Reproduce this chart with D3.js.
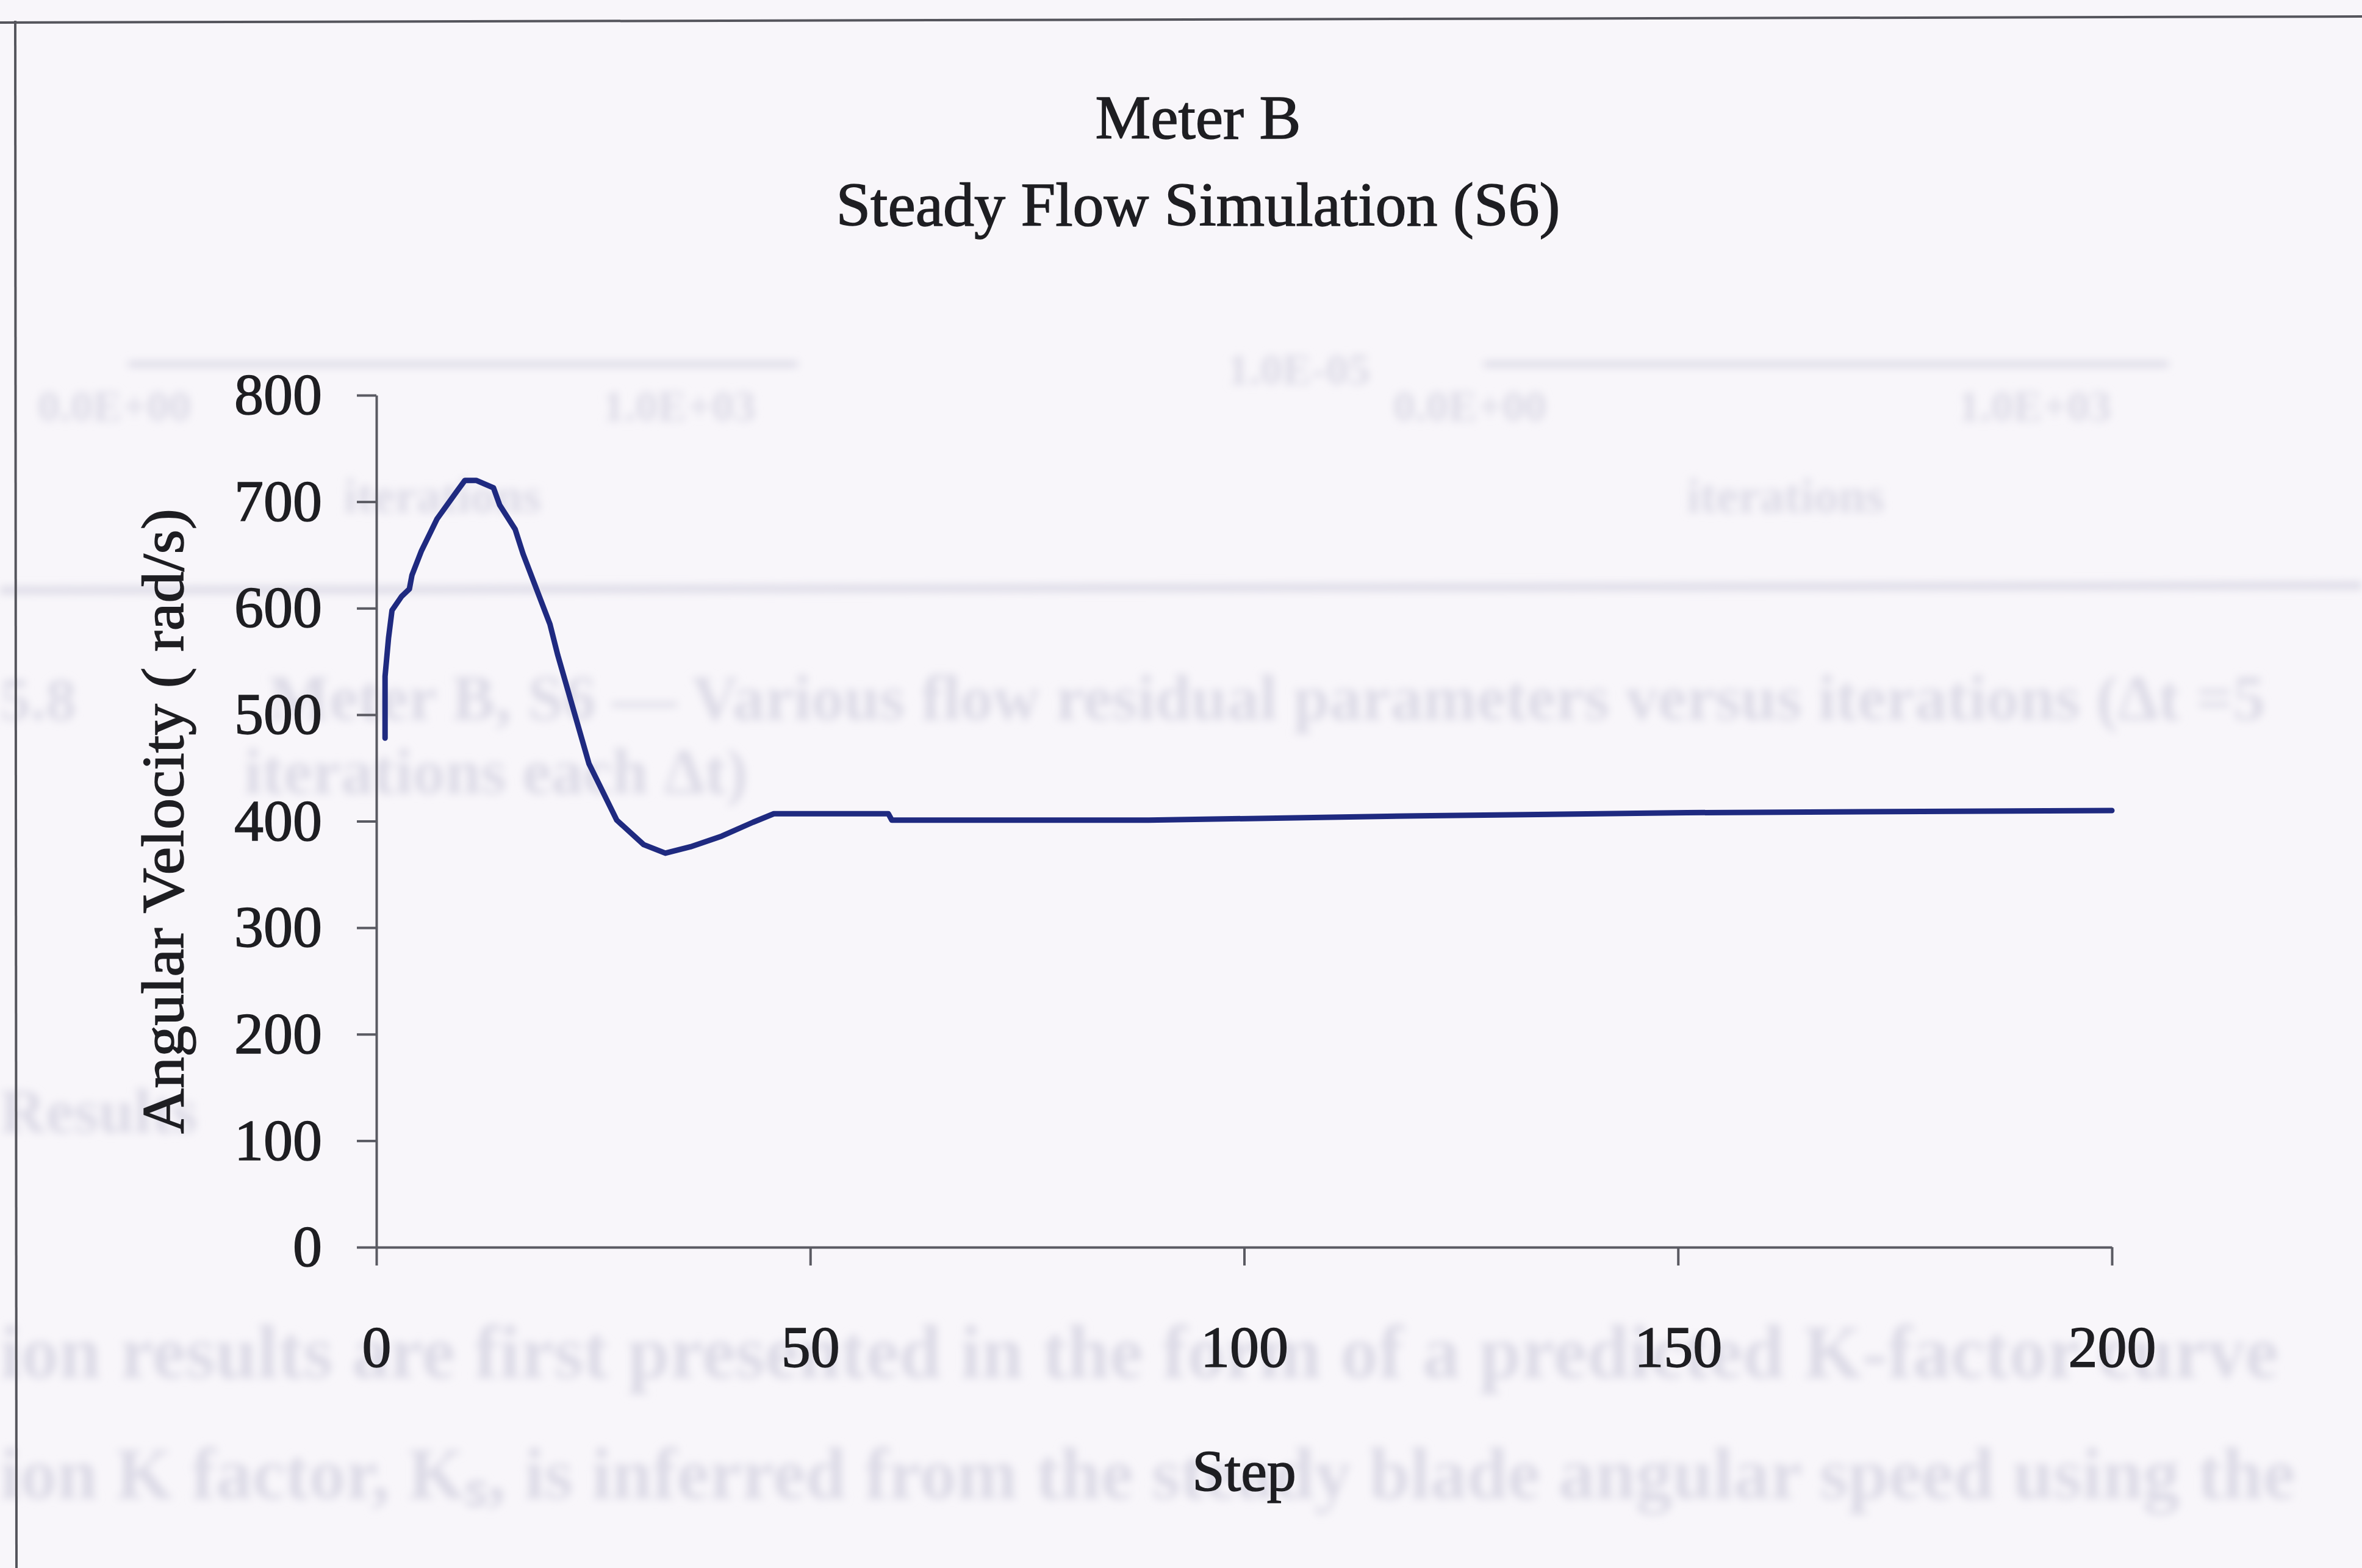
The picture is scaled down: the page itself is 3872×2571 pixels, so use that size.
<!DOCTYPE html>
<html>
<head>
<meta charset="utf-8">
<script src="https://cdn.jsdelivr.net/npm/d3@7/dist/d3.min.js"></script>
<style>
	html, body { margin: 0; padding: 0; background: #f8f6fa; }
	svg { display: block; }
</style>
</head>
<body>
<div id="chart"></div>
<script>
// Chart text
const titleLines = ['Meter B', 'Steady Flow Simulation (S6)'];
const xLabel = 'Step';
const yLabel = 'Angular Velocity ( rad/s)';

// Tick values
const xTicks = [0, 50, 100, 150, 200];
const yTicks = [0, 100, 200, 300, 400, 500, 600, 700, 800];

// Angular velocity (step, rad/s)
const steps = [1, 1, 1.4, 1.8, 2.9, 3.8, 4.1, 5.2, 7, 9.3, 10.2, 11.5, 13.5, 14.2, 16, 16.9,
	20, 20.9, 24.5, 27.7, 30.8, 33.3, 36.2, 39.8, 43.4, 45.8, 59, 59.4, 66, 89, 120, 151, 200];
const omega = [478, 536, 572, 598, 611, 618, 631, 654, 684, 710, 720, 720, 713, 697, 674, 651,
	585, 556, 454, 401, 378, 370, 376, 386, 399, 407, 407, 401, 401, 401, 405, 408, 410];

const	width = 3872,
		height = 2571,
		lineColor = '#1f2a80',
		axisColor = '#5a5a62',
		textColor = '#1e1e22',
		ghostColor = '#dcdae6';

const svg = d3.select('#chart').append('svg')
	.attr('width', width)
	.attr('height', height)
	.style('font-family', '"Liberation Serif", "DejaVu Serif", serif');

// Soft blur for the show-through of the reverse page
svg.append('defs').append('filter')
	.attr('id', 'ghostBlur')
	.attr('x', '-5%').attr('y', '-50%').attr('width', '110%').attr('height', '200%')
	.append('feGaussianBlur')
	.attr('stdDeviation', 7);

svg.append('rect')
	.attr('width', width)
	.attr('height', height)
	.attr('fill', '#f8f6fa');

// Faint show-through from the scanned page behind the chart
const ghost = svg.append('g')
	.attr('fill', ghostColor)
	.attr('filter', 'url(#ghostBlur)')
	.style('font-family', '"Liberation Serif", serif');

ghost.append('line').attr('x1', 210).attr('x2', 1308).attr('y1', 597).attr('y2', 597)
	.attr('stroke', ghostColor).attr('stroke-width', 10);
ghost.append('line').attr('x1', 2432).attr('x2', 3555).attr('y1', 597).attr('y2', 597)
	.attr('stroke', ghostColor).attr('stroke-width', 10);
ghost.append('line').attr('x1', 0).attr('x2', width).attr('y1', 968).attr('y2', 960)
	.attr('stroke', ghostColor).attr('stroke-width', 12);

[
	['0.0E+00', 62, 690, 72], ['1.0E+03', 988, 690, 72], ['1.0E-05', 2012, 630, 72],
	['0.0E+00', 2284, 690, 72], ['1.0E+03', 3210, 690, 72],
	['iterations', 563, 840, 80], ['iterations', 2765, 840, 80],
	['5.8', 0, 1180, 100],
	['Meter B, S6 \u2014 Various flow residual parameters versus iterations (\u0394t =5', 440, 1180, 106],
	['iterations each \u0394t)', 400, 1301, 106],
	['Results', 0, 1857, 104],
	['ion results are first presented in the form of a predicted K-factor curve', 0, 2259, 124],
	['ion K factor, K\u209b, is inferred from the steady blade angular speed using the', 0, 2457, 120]
].forEach(g => {
	ghost.append('text')
		.attr('x', g[1])
		.attr('y', g[2])
		.style('font-size', g[3] + 'px')
		.style('font-weight', 'bold')
		.text(g[0]);
});

// Page frame lines from the scan
svg.append('line')
	.attr('x1', 0).attr('y1', 37).attr('x2', width).attr('y2', 27)
	.attr('stroke', '#55555c').attr('stroke-width', 4);
svg.append('line')
	.attr('x1', 25).attr('y1', 34).attr('x2', 27).attr('y2', height)
	.attr('stroke', '#55555c').attr('stroke-width', 4);

// Scales
const x = d3.scaleLinear()
	.domain([0, 200])
	.range([617, 3462]);

const y = d3.scaleLinear()
	.domain([0, 800])
	.range([2045, 648]);

// Axes
const yAxis = svg.append('g')
	.attr('transform', `translate(${x(0)},0)`)
	.call(d3.axisLeft(y).tickValues(yTicks).tickSize(32).tickSizeOuter(0).tickPadding(57));

const xAxis = svg.append('g')
	.attr('transform', `translate(0,${y(0)})`)
	.call(d3.axisBottom(x).tickValues(xTicks).tickSize(30).tickSizeOuter(0).tickPadding(98));

[xAxis, yAxis].forEach(ax => {
	ax.select('.domain').attr('stroke', axisColor).attr('stroke-width', 4);
	ax.selectAll('.tick line').attr('stroke', axisColor).attr('stroke-width', 4);
	ax.selectAll('.tick text')
		.attr('fill', textColor)
		.attr('stroke', textColor)
		.attr('stroke-width', 1.5)
		.style('font-family', '"Liberation Serif", serif')
		.style('font-size', '96px');
});

// Series
const line = d3.line()
	.x((d, i) => x(steps[i]))
	.y(d => y(d));

svg.append('path')
	.datum(omega)
	.attr('fill', 'none')
	.attr('stroke', lineColor)
	.attr('stroke-width', 9)
	.attr('stroke-linejoin', 'round')
	.attr('stroke-linecap', 'round')
	.attr('d', line);

// Titles and labels
const labels = svg.append('g')
	.attr('fill', textColor)
	.attr('stroke', textColor)
	.attr('stroke-width', 1.5);

labels.append('text')
	.attr('x', 1964).attr('y', 227)
	.attr('text-anchor', 'middle')
	.style('font-size', '102px')
	.text(titleLines[0]);

labels.append('text')
	.attr('x', 1964).attr('y', 370)
	.attr('text-anchor', 'middle')
	.style('font-size', '102px')
	.text(titleLines[1]);

labels.append('text')
	.attr('x', (x(0) + x(200)) / 2).attr('y', 2444)
	.attr('text-anchor', 'middle')
	.style('font-size', '96px')
	.text(xLabel);

labels.append('text')
	.attr('transform', `translate(300,${(y(0) + y(800)) / 2}) rotate(-90)`)
	.attr('text-anchor', 'middle')
	.attr('textLength', 1025)
	.attr('lengthAdjust', 'spacingAndGlyphs')
	.style('font-size', '98px')
	.text(yLabel);
</script>
</body>
</html>
